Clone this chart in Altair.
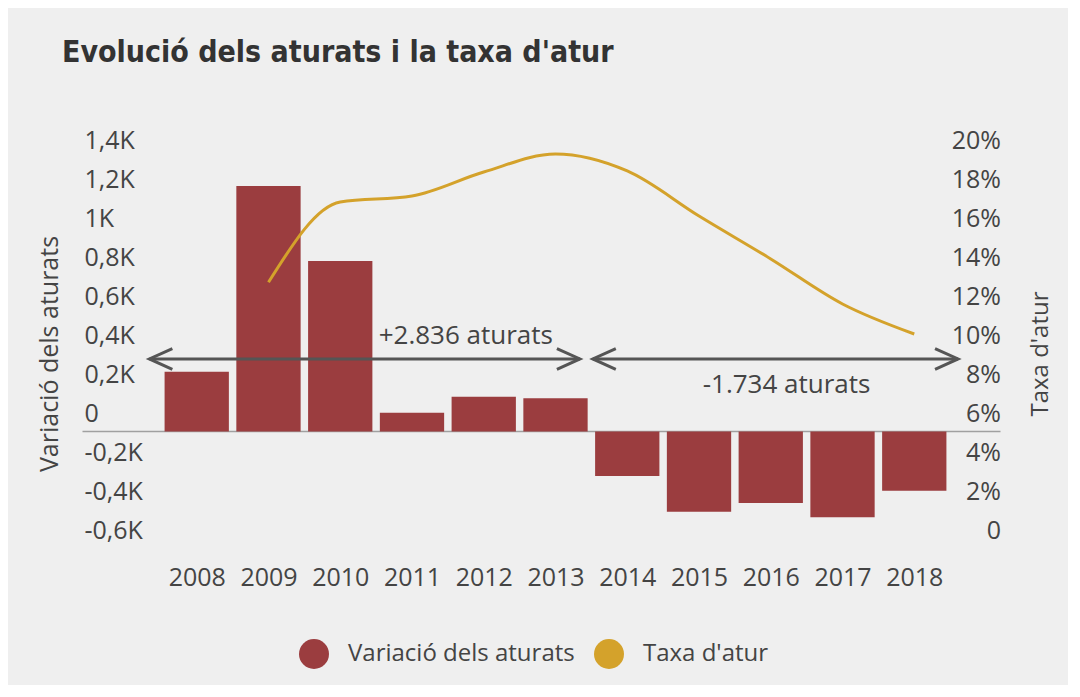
import altair as alt
import pandas as pd

# ---- data ----
years = [2008, 2009, 2010, 2011, 2012, 2013, 2014, 2015, 2016, 2017, 2018]
variacio_k = [0.307, 1.259, 0.874, 0.096, 0.178, 0.170, -0.228, -0.411, -0.367, -0.440, -0.304]
taxa_years = [2009, 2010, 2011, 2012, 2013, 2014, 2015, 2016, 2017, 2018]
taxa_pct = [13.65, 17.77, 18.08, 19.31, 20.23, 19.36, 17.05, 14.85, 12.54, 11.0]

arrow_start = [2007.34, 2013.52]
arrow_end = [2013.34, 2018.61]
arrow_level = [0.372, 0.372]
note_text = ["+2.836 aturats", "-1.734 aturats"]
note_x = [2011.75, 2016.22]
note_y = [0.49, 0.238]

left_ticks = [-0.6, -0.4, -0.2, 0, 0.2, 0.4, 0.6, 0.8, 1, 1.2, 1.4]
right_ticks = [0, 2, 4, 6, 8, 10, 12, 14, 16, 18, 20]

serie_bar = "Variació dels aturats"
serie_line = "Taxa d'atur"

RED = "#9b3d3f"
YEL = "#d4a22b"
TXT = "#444444"
FONT = "Open Sans"
FS = 25

W, H = 818, 390

bars_df = pd.DataFrame({"year": years, "v": variacio_k, "serie": serie_bar})
line_df = pd.DataFrame({"year": taxa_years, "t": taxa_pct})
arrows_df = pd.DataFrame({"xs": arrow_start, "xe": arrow_end, "v": arrow_level})
notes_df = pd.DataFrame({"x": note_x, "v": note_y, "txt": note_text})
zero_df = pd.DataFrame({"v": [0]})

xscale = alt.Scale(domain=[2007.3, 2018.7], nice=False, zero=False, padding=0)
xaxis = alt.Axis(values=years, format="d", title=None, ticks=False, domain=False,
                 grid=False, labelFontSize=FS, labelFont=FONT, labelColor=TXT,
                 labelPadding=17)
yscale = alt.Scale(domain=[-0.6, 1.4], nice=False, zero=False, padding=0)
yaxis = alt.Axis(values=left_ticks, title="Variació dels aturats",
                 labelExpr="datum.value == 0 ? '0' : replace('' + datum.value, '.', ',') + 'K'",
                 ticks=False, domain=False, grid=False, labelAlign="left",
                 labelPadding=62.5, labelOffset=-18, labelFontSize=FS, labelFont=FONT,
                 labelColor=TXT, titleFontSize=FS, titleFont=FONT, titleFontWeight="normal",
                 titleColor=TXT, titlePadding=22)

bars = alt.Chart(bars_df).transform_calculate(
    x0="datum.year - 0.448", x1="datum.year + 0.448"
).mark_rect(stroke=None).encode(
    x=alt.X("x0:Q", scale=xscale, axis=xaxis),
    x2="x1:Q",
    y=alt.Y("v:Q", scale=yscale, axis=yaxis),
    y2=alt.datum(0),
    color=alt.Color("serie:N",
                    scale=alt.Scale(domain=[serie_bar, serie_line], range=[RED, YEL]),
                    legend=alt.Legend(orient="none", legendX=152.5, legendY=480.5,
                                      direction="horizontal", title=None,
                                      symbolType="circle", symbolSize=900,
                                      symbolStrokeWidth=0, labelFontSize=24,
                                      labelFont=FONT, labelColor=TXT, labelOffset=19,
                                      columnPadding=19, labelLimit=0)),
)

zero = alt.Chart(zero_df).mark_rule(color="#a0a0a0", strokeWidth=1.5).encode(
    y=alt.Y("v:Q", scale=yscale, axis=yaxis),
    x=alt.value(-64),
    x2=alt.value(W + 36),
)

arrows = alt.Chart(arrows_df).mark_rule(color="#555555", strokeWidth=3).encode(
    x=alt.X("xs:Q", scale=xscale, axis=xaxis),
    x2="xe:Q",
    y=alt.Y("v:Q", scale=yscale, axis=yaxis),
)
head_l = alt.Chart(arrows_df).mark_point(
    shape="M1,-0.45L0,0L1,0.45", size=2116, filled=False, strokeWidth=3,
    color="#555555", opacity=1
).encode(
    x=alt.X("xs:Q", scale=xscale, axis=xaxis),
    y=alt.Y("v:Q", scale=yscale, axis=yaxis),
)
head_r = alt.Chart(arrows_df).mark_point(
    shape="M-1,-0.45L0,0L-1,0.45", size=2116, filled=False, strokeWidth=3,
    color="#555555", opacity=1
).encode(
    x=alt.X("xe:Q", scale=xscale, axis=xaxis),
    y=alt.Y("v:Q", scale=yscale, axis=yaxis),
)
notes = alt.Chart(notes_df).mark_text(
    font=FONT, fontSize=26, color=TXT, align="center", baseline="middle"
).encode(
    x=alt.X("x:Q", scale=xscale, axis=xaxis),
    y=alt.Y("v:Q", scale=yscale, axis=yaxis),
    text="txt:N",
)

left = alt.layer(zero, bars, arrows, head_l, head_r, notes)

line = alt.Chart(line_df).mark_line(
    interpolate="monotone", color=YEL, strokeWidth=3
).encode(
    x=alt.X("year:Q", scale=xscale, axis=xaxis),
    y=alt.Y("t:Q", scale=alt.Scale(domain=[0, 20], nice=False, zero=False, padding=0),
            axis=alt.Axis(orient="right", values=right_ticks, title="Taxa d'atur",
                          labelExpr="datum.value == 0 ? '0' : datum.value + '%'",
                          ticks=False, domain=False, grid=False, labelAlign="right",
                          labelPadding=36, labelOffset=-18, labelFontSize=FS,
                          labelFont=FONT, labelColor=TXT, titleFontSize=24,
                          titleFont=FONT, titleFontWeight="normal", titleColor=TXT,
                          titleAngle=270, titlePadding=52)),
)

chart = alt.layer(left, line).resolve_scale(y="independent").properties(
    width=W, height=H,
    title=alt.TitleParams("Evolució dels aturats i la taxa d'atur", anchor="start",
                          frame="group",
                          font="DejaVu Sans Condensed, Roboto Condensed, Liberation Sans Narrow, Roboto",
                          fontSize=30, fontWeight="bold",
                          color="#333333", dx=-84.5, offset=61),
    autosize=alt.AutoSizeParams(type="none"),
    padding={"left": 138.5, "top": 150.5, "right": 103.5, "bottom": 136.5},
    background="#efefef",
).configure_view(stroke=None)

chart.save("out.html", embed_options={"renderer": "svg", "actions": False})
